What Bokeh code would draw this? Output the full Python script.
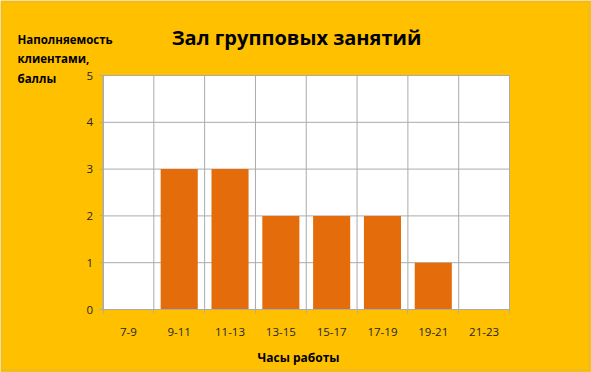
from bokeh.plotting import figure
from bokeh.models import Range1d, FixedTicker, Label, BoxAnnotation
from bokeh.embed import file_html
from bokeh.resources import INLINE

categories = ["7-9", "9-11", "11-13", "13-15", "15-17", "17-19", "19-21", "21-23"]
values = [0, 3, 3, 2, 2, 2, 1, 0]
y_ticks = [0, 1, 2, 3, 4, 5]
title_text = "Зал групповых занятий"
y_label_lines = ["Наполняемость", "клиентами,", "баллы"]
x_label_text = "Часы работы"

BG = "#FFC000"
BAR = "#E46C0A"
GRID = "#ABABAB"
FONT = "Open Sans"

W, H = 591, 372
# plot area in pixels (from top-left)
PL, PR, PT, PB = 102.5, 509, 75, 309

n = len(categories)
ymax = y_ticks[-1]
xs = [i + 0.5 for i in range(n)]
bounds_x = list(range(n + 1))

ux = (PR - PL) / n
uy = (PB - PT) / ymax
x_range = Range1d(-PL / ux, n + (W - PR) / ux)
y_range = Range1d(-(H - PB) / uy, ymax + PT / uy)

p = figure(width=W, height=H, output_backend="svg", toolbar_location=None,
           x_range=x_range, y_range=y_range,
           min_border=0, min_border_left=0, min_border_right=0,
           min_border_top=0, min_border_bottom=0)
p.background_fill_color = BG
p.border_fill_color = BG
p.outline_line_color = None
p.xgrid.grid_line_color = None
p.ygrid.grid_line_color = None

# white plot area
p.quad(left=[0], right=[n], bottom=[0], top=[ymax], fill_color="white", line_color=None)

# grid lines (category boundaries and value ticks)
p.segment(x0=bounds_x, x1=bounds_x, y0=[0] * len(bounds_x), y1=[ymax] * len(bounds_x),
          line_color=GRID, line_width=1)
p.segment(x0=[0] * len(y_ticks), x1=[n] * len(y_ticks), y0=y_ticks, y1=y_ticks,
          line_color=GRID, line_width=1)

p.vbar(x=xs, top=values, width=0.73, bottom=0, fill_color=BAR, line_color=None)

# x axis: labels at centers, tick marks at boundaries
p.xaxis.fixed_location = 0
p.xaxis.bounds = (0, n)
p.xaxis.ticker = FixedTicker(ticks=xs, minor_ticks=bounds_x)
p.xaxis.major_label_overrides = {x: c for x, c in zip(xs, categories)}
p.xaxis.major_tick_line_color = None
p.xaxis.major_tick_out = 0
p.xaxis.major_tick_in = 0
p.xaxis.minor_tick_line_color = GRID
p.xaxis.minor_tick_out = 4
p.xaxis.minor_tick_in = 0
p.xaxis.major_label_standoff = 14
p.xaxis.axis_line_color = GRID

p.yaxis.fixed_location = 0
p.yaxis.bounds = (0, ymax)
p.yaxis.ticker = FixedTicker(ticks=y_ticks)
p.yaxis.major_tick_out = 4
p.yaxis.major_tick_in = 0
p.yaxis.minor_tick_line_color = None
p.yaxis.major_tick_line_color = GRID
p.yaxis.major_label_standoff = 6
p.yaxis.axis_line_color = GRID

for ax in (p.xaxis, p.yaxis):
    ax.major_label_text_font = FONT
    ax.major_label_text_font_size = "11.5px"
    ax.major_label_text_color = "#262626"

p.add_layout(Label(x=296, y=H - 37, x_units="screen", y_units="screen", text=title_text,
                   text_font=FONT, text_font_size="20px", text_font_style="bold",
                   text_align="center", text_baseline="middle", text_color="black"))

for i, line in enumerate(y_label_lines):
    p.add_layout(Label(x=17, y=H - 38.5 - 19.75 * i, x_units="screen", y_units="screen", text=line,
                       text_font=FONT, text_font_size="11.5px", text_font_style="bold",
                       text_align="left", text_baseline="middle", text_color="black"))

p.add_layout(Label(x=298, y=H - 357, x_units="screen", y_units="screen", text=x_label_text,
                   text_font=FONT, text_font_size="12px", text_font_style="bold",
                   text_align="center", text_baseline="middle", text_color="black"))

# outer chart border
p.add_layout(BoxAnnotation(left=1.5, right=588.5, bottom=H - 369.5, top=H - 1.5,
                           left_units="screen", right_units="screen",
                           bottom_units="screen", top_units="screen",
                           fill_alpha=0, line_color="#B0B0B0", line_width=1.5))

open("out.html", "w").write(file_html(p, INLINE))
